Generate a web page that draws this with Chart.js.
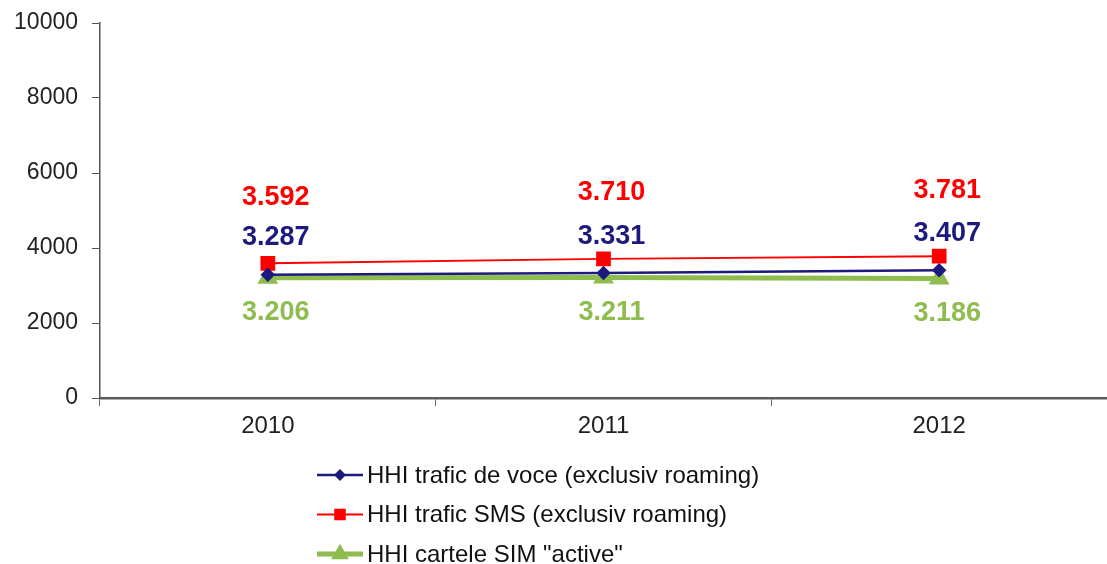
<!DOCTYPE html>
<html>
<head>
<meta charset="utf-8">
<script src="https://cdn.jsdelivr.net/npm/chart.js@4"></script>
<style>
  html, body { margin: 0; padding: 0; background: #fff; }
  #wrap { width: 1107px; height: 564px; }
</style>
</head>
<body>
<div id="wrap"><canvas id="hhi"></canvas></div>
<script>
const years = ['2010', '2011', '2012'];
const voce = [3287, 3331, 3407];
const sms = [3592, 3710, 3781];
const sim = [3206, 3211, 3186];
const yTicks = [0, 2000, 4000, 6000, 8000, 10000];

// 3592 -> "3.592"
const fmt = v => String(v).replace(/\B(?=(\d{3})+(?!\d))/g, '.');

// value labels over / under each point
const valueLabels = {
  id: 'valueLabels',
  afterDatasetsDraw(chart) {
    const { ctx } = chart;
    ctx.save();
    ctx.font = 'bold 27px "Liberation Sans", Arial, sans-serif';
    ctx.textAlign = 'center';
    ctx.textBaseline = 'middle';
    chart.data.datasets.forEach((ds, i) => {
      chart.getDatasetMeta(i).data.forEach((pt, j) => {
        ctx.fillStyle = ds.borderColor;
        ctx.fillText(fmt(ds.data[j]), pt.x + 8, pt.y + ds.labelOffset);
      });
    });
    ctx.restore();
  }
};

// vertical legend under the axis
const sideLegend = {
  id: 'sideLegend',
  afterDraw(chart) {
    const { ctx } = chart;
    ctx.save();
    ctx.font = '24px "Liberation Sans", Arial, sans-serif';
    ctx.textBaseline = 'middle';
    chart.data.datasets.forEach((ds, i) => {
      const y = 475 + i * 39.5;
      ctx.strokeStyle = ds.borderColor;
      ctx.lineWidth = ds.borderWidth;
      ctx.beginPath();
      ctx.moveTo(317, y);
      ctx.lineTo(363, y);
      ctx.stroke();
      Chart.helpers.drawPoint(ctx, {
        pointStyle: ds.pointStyle, radius: ds.pointRadius * 0.75, rotation: 0,
        borderWidth: 1
      }, 340, y);
      ctx.fillStyle = ds.borderColor;
      ctx.fill();
      ctx.fillStyle = '#111';
      ctx.fillText(ds.label, 367, y + 1);
    });
    ctx.restore();
  }
};

new Chart(document.getElementById('hhi'), {
  type: 'line',
  data: {
    labels: years,
    datasets: [
      {
        label: 'HHI trafic de voce (exclusiv roaming)',
        data: voce,
        borderColor: '#1c1a7c',
        backgroundColor: '#1c1a7c',
        borderWidth: 2.5,
        pointStyle: 'rectRot',
        pointRadius: 5.5,
        labelOffset: -37
      },
      {
        label: 'HHI trafic SMS (exclusiv roaming)',
        data: sms,
        borderColor: '#ff0000',
        backgroundColor: '#ff0000',
        borderWidth: 2,
        pointStyle: 'rect',
        pointRadius: 9,
        labelOffset: -66
      },
      {
        label: 'HHI cartele SIM "active"',
        data: sim,
        borderColor: '#8fbc4f',
        backgroundColor: '#8fbc4f',
        borderWidth: 5,
        pointStyle: 'triangle',
        pointRadius: 7,
        labelOffset: 35
      }
    ]
  },
  options: {
    responsive: true,
    maintainAspectRatio: false,
    animation: false,
    layout: { autoPadding: false, padding: { top: 23, right: 0, left: 0, bottom: 0 } },
    plugins: {
      legend: { display: false },
      tooltip: { enabled: false }
    },
    scales: {
      x: {
        offset: true,
        afterFit: s => { s.height = 166; },
        grid: { offset: true, drawOnChartArea: false, tickLength: 8, color: '#666' },
        border: { color: '#5a5a5a', width: 2.5 },
        ticks: {
          color: '#222',
          padding: 6,
          font: { family: '"Liberation Sans", Arial, sans-serif', size: 24 }
        }
      },
      y: {
        min: 0,
        max: 10000,
        afterFit: s => { s.width = 100; s.paddingTop = 0; },
        afterBuildTicks: s => { s.ticks = yTicks.map(v => ({ value: v })); },
        grid: { drawOnChartArea: false, tickLength: 8, color: '#555' },
        border: { color: '#555', width: 1.5 },
        ticks: {
          color: '#222',
          padding: 14,
          callback: v => String(v),
          font: { family: '"Liberation Sans", Arial, sans-serif', size: 23 }
        }
      }
    }
  },
  plugins: [valueLabels, sideLegend]
});
</script>
</body>
</html>
